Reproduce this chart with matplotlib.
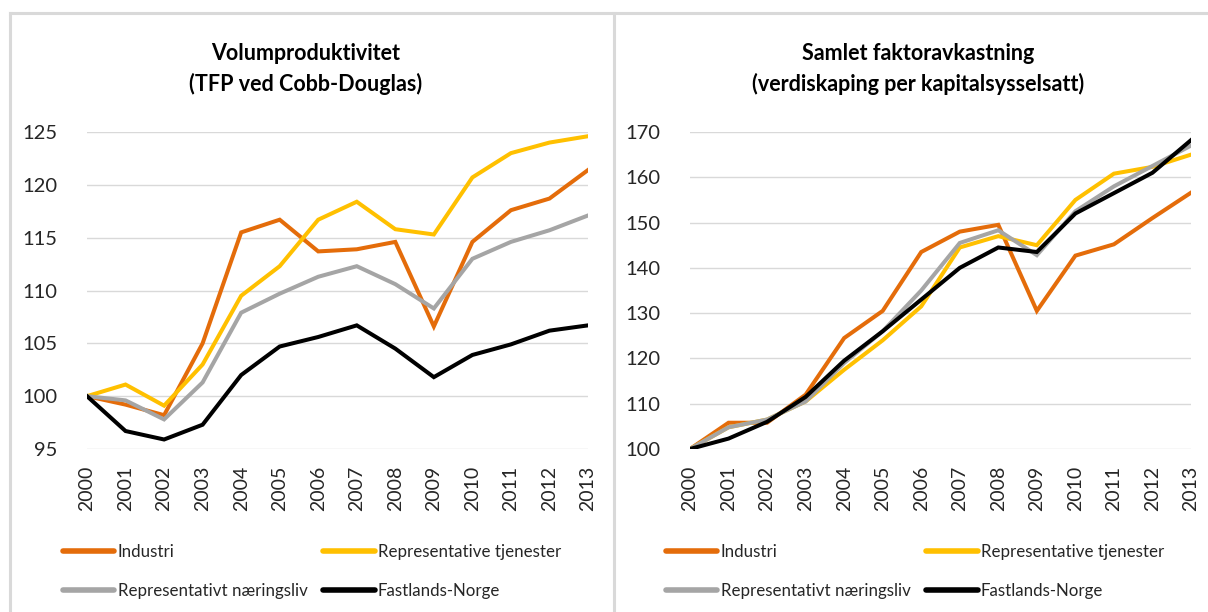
import matplotlib
matplotlib.use('Agg')
from matplotlib import pyplot as plt
from matplotlib.lines import Line2D

years = list(range(2000, 2014))

series_names = ['Industri', 'Representative tjenester',
                'Representativt næringsliv', 'Fastlands-Norge']
series_colors = ['#E46C0A', '#FFC000', '#A5A5A5', '#000000']

# Volumproduktivitet (TFP ved Cobb-Douglas)
tfp_industri = [100, 99.2, 98.2, 105.0, 115.5, 116.7, 113.7, 113.9, 114.6, 106.6, 114.6, 117.6, 118.7, 121.4]
tfp_tjenester = [100, 101.1, 99.1, 103.0, 109.5, 112.3, 116.7, 118.4, 115.8, 115.3, 120.7, 123.0, 124.0, 124.6]
tfp_naeringsliv = [100, 99.6, 97.8, 101.3, 107.9, 109.7, 111.3, 112.3, 110.6, 108.3, 113.0, 114.6, 115.7, 117.1]
tfp_fastland = [100, 96.7, 95.9, 97.3, 102.0, 104.7, 105.6, 106.7, 104.5, 101.8, 103.9, 104.9, 106.2, 106.7]

# Samlet faktoravkastning (verdiskaping per kapitalsysselsatt)
sfa_industri = [100, 105.8, 105.8, 112.0, 124.5, 130.5, 143.5, 148.0, 149.5, 130.5, 142.7, 145.2, 151.0, 156.6]
sfa_tjenester = [100, 104.8, 106.5, 110.5, 117.5, 124.0, 131.5, 144.5, 147.0, 145.0, 155.0, 160.8, 162.3, 165.0]
sfa_naeringsliv = [100, 104.8, 106.5, 110.5, 119.0, 126.0, 135.0, 145.5, 148.3, 142.8, 152.5, 158.0, 162.5, 167.0]
sfa_fastland = [100, 102.3, 106.0, 111.5, 119.5, 126.0, 133.0, 140.0, 144.5, 143.5, 152.0, 156.5, 161.0, 168.2]

W, H = 1208, 612
fig = plt.figure(figsize=(W / 100, H / 100), dpi=100)

tick_font = 'Lato'
title_font = 'Lato'
legend_font = 'Lato'


def px_axes(x0, x1, y_top, y_bot):
    return fig.add_axes([x0 / W, 1 - y_bot / H, (x1 - x0) / W, (y_bot - y_top) / H])


def draw_panel(ax, data, yticks, title, title_x):
    for vals, name, col in zip(data, series_names, series_colors):
        ax.plot(years, vals, color=col, lw=2.9, label=name, solid_joinstyle='miter')
    ax.set_xlim(2000, 2013)
    ax.set_ylim(yticks[0], yticks[-1])
    ax.set_yticks(yticks)
    ax.set_xticks(years)
    ax.set_xticklabels([str(y) for y in years], rotation=90, fontsize=14, family=tick_font, color='#262626')
    ax.set_yticklabels([str(t) for t in yticks], fontsize=14.5, family=tick_font, color='#262626')
    ax.tick_params(axis='y', length=0, pad=21)
    ax.tick_params(axis='x', length=0, pad=12)
    ax.grid(axis='y', color='#D9D9D9', lw=1)
    ax.set_axisbelow(True)
    for s in ax.spines.values():
        s.set_visible(False)
    fig.text(title_x / W, 1 - 69 / H, title, ha='center', va='center', fontsize=15.5,
             fontweight='bold', family=title_font, linespacing=1.55, color='#000000')

    # legend: two columns, filled column-wise
    handles = [Line2D([], [], color=series_colors[i], lw=4, solid_capstyle='round') for i in (0, 2, 1, 3)]
    labels = [series_names[i] for i in (0, 2, 1, 3)]
    leg = ax.legend(handles, labels, ncol=2, loc='upper left', bbox_to_anchor=(-0.079, -0.252),
                    frameon=False, handlelength=3.05, handletextpad=0.2, columnspacing=0.9,
                    labelspacing=1.35, prop={'family': legend_font, 'size': 12.2})
    for t in leg.get_texts():
        t.set_color('#262626')


ax1 = px_axes(87, 588, 132, 449)
draw_panel(ax1, [tfp_industri, tfp_tjenester, tfp_naeringsliv, tfp_fastland],
           [95, 100, 105, 110, 115, 120, 125],
           'Volumproduktivitet\n(TFP ved Cobb-Douglas)', 306)

ax2 = px_axes(690, 1191, 132, 449)
draw_panel(ax2, [sfa_industri, sfa_tjenester, sfa_naeringsliv, sfa_fastland],
           [100, 110, 120, 130, 140, 150, 160, 170],
           'Samlet faktoravkastning\n(verdiskaping per kapitalsysselsatt)', 918)

# panel borders
border = '#D9D9D9'
fig.add_artist(Line2D([10 / W, 1], [1 - 13 / H, 1 - 13 / H], color=border, lw=2.2))
fig.add_artist(Line2D([10 / W, 10 / W], [0, 1 - 13 / H], color=border, lw=2.2))
fig.add_artist(Line2D([614 / W, 614 / W], [0, 1 - 13 / H], color=border, lw=2.2))

fig.savefig('out.png', dpi=100)
